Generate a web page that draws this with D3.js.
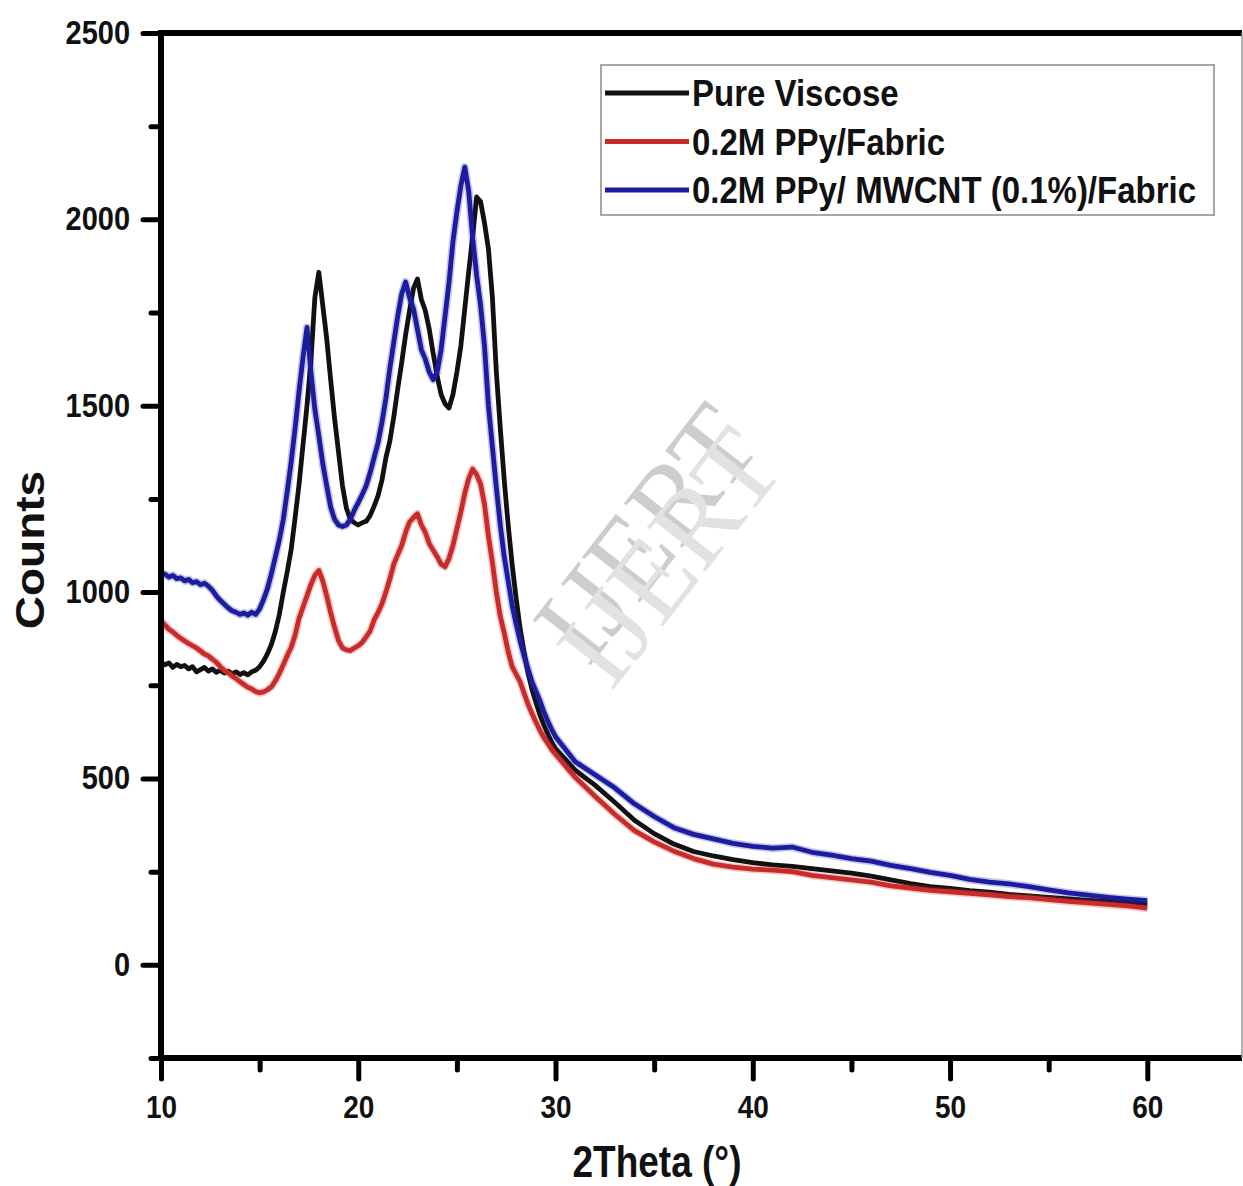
<!DOCTYPE html>
<html>
<head>
<meta charset="utf-8">
<script src="https://cdn.jsdelivr.net/npm/d3@7"></script>
<style>
  body { margin: 0; background: #fff; }
  svg { display: block; font-family: "Liberation Sans", Arial, sans-serif; }
</style>
</head>
<body>
<svg id="chart"></svg>
<script>
// 2Theta positions (deg): fine steps through the peaks, then 1 deg steps in the tail
const theta = [
    10, 10.2, 10.4, 10.6, 10.8, 11, 11.2, 11.4, 11.6, 11.8,
    12, 12.2, 12.4, 12.6, 12.8, 13, 13.2, 13.4, 13.6, 13.8,
    14, 14.2, 14.4, 14.6, 14.8, 15, 15.2, 15.4, 15.6, 15.8,
    16, 16.2, 16.4, 16.6, 16.8, 17, 17.2, 17.4, 17.6, 17.8,
    18, 18.2, 18.4, 18.6, 18.8, 19, 19.2, 19.4, 19.6, 19.8,
    20, 20.2, 20.4, 20.6, 20.8, 21, 21.2, 21.4, 21.6, 21.8,
    22, 22.2, 22.4, 22.6, 22.8, 23, 23.2, 23.4, 23.6, 23.8,
    24, 24.2, 24.4, 24.6, 24.8, 25, 25.2, 25.4, 25.6, 25.8,
    26, 26.2, 26.4, 26.6, 26.8, 27, 27.2, 27.4, 27.6, 27.8,
    28, 28.2, 28.4, 28.6, 28.8, 29, 29.2, 29.4, 29.6, 29.8,
    30, 31, 32, 33, 34, 35, 36, 37, 38, 39,
    40, 41, 42, 43, 44, 45, 46, 47, 48, 49,
    50, 51, 52, 53, 54, 55, 56, 57, 58, 59, 60
];

// Counts
const pureViscose = [
    812, 805, 810, 798, 806, 800, 803, 794, 800, 786,
    792, 798, 788, 794, 785, 790, 783, 788, 781, 786,
    779, 784, 778, 786, 790, 800, 815, 835, 860, 895,
    940, 1000, 1055, 1115, 1200, 1290, 1395, 1500, 1620, 1790,
    1858, 1770, 1680, 1570, 1465, 1375, 1285, 1225, 1195, 1186,
    1180, 1186, 1190, 1205, 1230, 1258, 1300, 1360, 1405, 1470,
    1545, 1615, 1690, 1755, 1815, 1840, 1785, 1755, 1705, 1640,
    1580, 1530, 1505, 1494, 1530, 1590, 1660, 1760, 1860, 1955,
    2060, 2048, 1990, 1920, 1790, 1590, 1440, 1300, 1180, 1075,
    985, 905, 840, 785, 740, 705, 672, 645, 620, 598,
    580, 522, 482, 436, 388, 352, 324, 304, 292, 282,
    274, 268, 264, 258, 252, 246, 238, 228, 218, 210,
    205, 199, 195, 189, 185, 181, 177, 173, 170, 167, 163
];

const ppyFabric = [
    922, 912, 900, 893, 884, 876, 869, 862, 856, 850,
    842, 834, 829, 820, 812, 800, 790, 784, 775, 768,
    760, 752, 745, 740, 733, 730, 732, 738, 746, 762,
    782, 805, 830, 852, 885, 930, 960, 990, 1020, 1045,
    1058, 1030, 990, 945, 905, 870, 850, 845, 843, 850,
    856, 865, 880, 895, 925, 945, 968, 1000, 1035, 1075,
    1100, 1125, 1160, 1188, 1200, 1210, 1180, 1160, 1130, 1112,
    1095, 1075, 1068, 1090, 1125, 1170, 1215, 1265, 1305, 1330,
    1315, 1290, 1235, 1150, 1080, 1000, 935, 890, 840, 800,
    780, 760, 730, 700, 675, 652, 630, 610, 595, 578,
    565, 503, 452, 404, 360, 330, 305, 285, 270, 262,
    257, 254, 250, 240, 234, 228, 222, 212, 206, 200,
    196, 192, 188, 183, 180, 175, 170, 166, 162, 158, 152
];

const ppyMwcntFabric = [
    1050, 1048, 1040, 1045, 1036, 1038, 1030, 1034, 1025, 1028,
    1020, 1024, 1016, 1005, 990, 978, 968, 958, 950, 946,
    940, 944, 938, 946, 940, 955, 980, 1010, 1050, 1095,
    1140, 1195, 1270, 1350, 1440, 1540, 1630, 1710, 1590, 1490,
    1420, 1345, 1285, 1228, 1195, 1180, 1176, 1180, 1195, 1220,
    1240, 1262, 1285, 1320, 1360, 1400, 1455, 1520, 1600, 1670,
    1740, 1800, 1832, 1790, 1760, 1705, 1650, 1625, 1590, 1570,
    1590, 1650, 1740, 1830, 1940, 2020, 2090, 2140, 2075, 1950,
    1850, 1770, 1660, 1500, 1390, 1280, 1180, 1095, 1030, 965,
    915, 870, 830, 795, 760, 735, 710, 680, 655, 632,
    612, 545, 510, 475, 432, 398, 368, 350, 338, 326,
    318, 313, 316, 302, 294, 285, 278, 267, 258, 248,
    240, 229, 222, 217, 210, 201, 193, 187, 181, 176, 172
];

const seriesNames = ['Pure Viscose', '0.2M PPy/Fabric', '0.2M PPy/ MWCNT (0.1%)/Fabric'];
const seriesColors = ['#111111', '#c92a2a', '#1c1c9e'];

const xTicks = [10, 20, 30, 40, 50, 60];
const xMinorTicks = [15, 25, 35, 45, 55];
const yTicks = [0, 500, 1000, 1500, 2000, 2500];
const yMinorTicks = [-250, 250, 750, 1250, 1750, 2250];

const W = 1243, H = 1186;
const margin = { top: 33, right: 1, bottom: 128, left: 161 };
const width = W - margin.left - margin.right;
const height = H - margin.top - margin.bottom;

const svg = d3.select('#chart').attr('width', W).attr('height', H);
const g = svg.append('g').attr('transform', `translate(${margin.left},${margin.top})`);

const x = d3.scaleLinear().domain([10, 64.8]).range([0, width]);
const y = d3.scaleLinear().domain([-250, 2500]).range([height, 0]);

// watermark
[[645, 532, '#cdcdcd'], [668, 556, '#e2e2e2']].forEach(([cx, cy, c]) => {
    svg.append('text')
        .attr('transform', `translate(${cx},${cy}) rotate(-52)`)
        .attr('text-anchor', 'middle')
        .attr('dy', '0.35em')
        .attr('font-family', '"Liberation Serif", "DejaVu Serif", serif')
        .attr('font-size', 112)
        .attr('fill', c)
        .text('IJERT');
});

// axes
function styleAxis(sel, fontSize, stretch) {
    sel.select('.domain').remove();
    sel.selectAll('.tick line')
        .attr('stroke', '#000')
        .attr('stroke-width', 5)
        .attr('stroke-linecap', 'round');
    sel.selectAll('.tick text')
        .attr('fill', '#111')
        .attr('font-size', fontSize)
        .attr('font-weight', 'bold')
        .attr('font-family', '"Liberation Sans", Arial, sans-serif')
        .attr('transform', `scale(1,${stretch})`);
}

g.append('g')
    .attr('transform', `translate(0,${height})`)
    .call(d3.axisBottom(x).tickValues(xTicks).tickSize(21).tickPadding(11).tickFormat(d3.format('d')))
    .call(s => styleAxis(s, 28, 1.15));
g.append('g')
    .attr('transform', `translate(0,${height})`)
    .call(d3.axisBottom(x).tickValues(xMinorTicks).tickSize(12).tickFormat(''))
    .call(s => styleAxis(s, 28, 1));

g.append('g')
    .call(d3.axisLeft(y).tickValues(yTicks).tickSize(18).tickPadding(13).tickFormat(d3.format('d')))
    .call(s => styleAxis(s, 29, 1.12));
g.append('g')
    .call(d3.axisLeft(y).tickValues(yMinorTicks).tickSize(10).tickFormat(''))
    .call(s => styleAxis(s, 28, 1));

// curves
const seriesValues = [pureViscose, ppyFabric, ppyMwcntFabric];
const line = d3.line()
    .x((d, i) => x(theta[i]))
    .y(d => y(d));

seriesValues.forEach((vals, k) => {
    if (k > 0) {
        g.append('path')
            .datum(vals)
            .attr('fill', 'none')
            .attr('stroke', seriesColors[k])
            .attr('stroke-opacity', 0.25)
            .attr('stroke-width', 8)
            .attr('stroke-linejoin', 'round')
            .attr('d', line);
    }
    g.append('path')
        .datum(vals)
        .attr('fill', 'none')
        .attr('stroke', seriesColors[k])
        .attr('stroke-width', 4.8)
        .attr('stroke-linejoin', 'round')
        .attr('d', line);
});

// frame
g.append('line').attr('x1', 0).attr('x2', width).attr('y1', 0).attr('y2', 0)
    .attr('stroke', '#000').attr('stroke-width', 6);
g.append('line').attr('x1', 0).attr('x2', width).attr('y1', height).attr('y2', height)
    .attr('stroke', '#000').attr('stroke-width', 6);
g.append('line').attr('x1', 0).attr('x2', 0).attr('y1', -3).attr('y2', height + 3)
    .attr('stroke', '#000').attr('stroke-width', 6);
g.append('line').attr('x1', width).attr('x2', width).attr('y1', 0).attr('y2', height)
    .attr('stroke', '#999').attr('stroke-width', 1.5);

// axis titles
svg.append('text')
    .attr('transform', 'translate(657,1177) scale(1,1.2)')
    .attr('text-anchor', 'middle')
    .attr('font-size', 37)
    .attr('font-weight', 'bold')
    .attr('fill', '#111')
    .text('2Theta (°)');

svg.append('text')
    .attr('transform', 'translate(44,550) rotate(-90) scale(1.15,1)')
    .attr('text-anchor', 'middle')
    .attr('font-size', 40)
    .attr('font-weight', 'bold')
    .attr('fill', '#111')
    .text('Counts');

// legend
const legend = svg.append('g').attr('transform', 'translate(601,65)');
legend.append('rect')
    .attr('width', 613)
    .attr('height', 150)
    .attr('fill', '#fff')
    .attr('stroke', '#8a8a8a')
    .attr('stroke-width', 1.5);

seriesNames.forEach((name, i) => {
    const cy = 28 + i * 48.5;
    legend.append('line')
        .attr('x1', 4).attr('x2', 88)
        .attr('y1', cy).attr('y2', cy)
        .attr('stroke', seriesColors[i])
        .attr('stroke-width', 5);
    legend.append('text')
        .attr('transform', `translate(91,${cy}) scale(1,1.1)`)
        .attr('dy', '0.36em')
        .attr('font-size', 33)
        .attr('font-weight', 'bold')
        .attr('fill', '#111')
        .text(name);
});
</script>
</body>
</html>
